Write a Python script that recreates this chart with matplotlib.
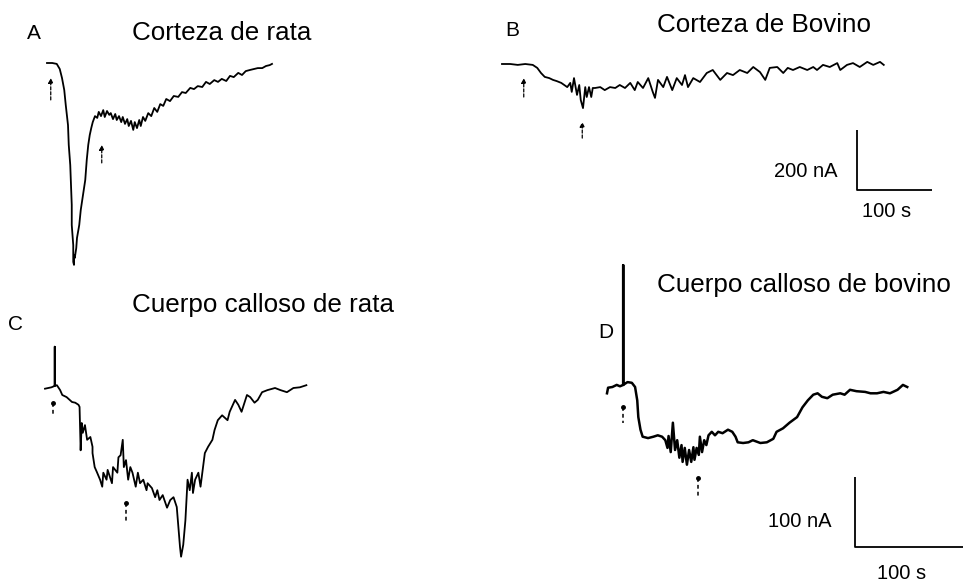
import matplotlib.pyplot as plt

plt.rcParams['font.family'] = ['Liberation Sans', 'DejaVu Sans']

# --- registros (tiempo en s, corriente en nA) ---

# A: corteza de rata
t_a = [0, 7, 13, 17, 20, 23, 25, 28, 29, 31, 32, 33, 33, 35, 35, 36, 36, 37, 39, 40,
       43, 45, 48, 51, 53, 55, 57, 59, 61, 64, 67, 69, 72, 75, 77, 80, 83, 85, 88, 91,
       93, 96, 99, 101, 104, 107, 109, 112, 115, 117, 120, 123, 125, 128, 131, 135, 139, 143, 147, 151,
       155, 159, 164, 169, 175, 180, 185, 191, 196, 201, 207, 212, 217, 223, 228, 233, 239, 244, 249, 255,
       260, 265, 271, 276, 281, 287, 292, 297, 300]
i_a = [0, 0, -3, -20, -50, -90, -140, -207, -273, -340, -407, -473, -540, -607, -663, -673, -640, -650, -617, -583,
       -540, -490, -440, -390, -323, -273, -240, -217, -197, -177, -183, -163, -177, -157, -180, -160, -173, -167, -187, -170,
       -190, -177, -197, -180, -203, -187, -210, -193, -223, -197, -217, -190, -210, -180, -193, -167, -177, -150, -163, -137,
       -143, -120, -127, -110, -113, -97, -100, -83, -87, -77, -80, -63, -70, -57, -63, -53, -60, -43, -47, -33,
       -40, -27, -23, -20, -17, -17, -10, -7, -3]

# B: corteza de bovino
t_b = [0, 11, 21, 31, 41, 47, 52, 57, 63, 68, 73, 79, 83, 87,
       91, 93, 96, 100, 103, 105, 108, 111, 113, 116, 119, 121,
       124, 131, 137, 144, 151, 157, 164, 171, 177, 181, 188, 195, 201, 204, 208, 215, 220, 227, 233, 240, 244, 248, 255,
       264, 273, 281, 291, 300, 308, 317, 327, 335, 344, 351, 357, 367, 375, 381, 388, 397, 407, 415, 420, 428, 437, 447,
       451, 460, 468, 477, 487, 495, 504, 509]
i_b = [0, 0, -3, 0, -3, -13, -30, -43, -47, -53, -57, -63, -70, -77,
       -63, -93, -47, -103, -70, -120, -147, -77, -110, -77, -110, -80,
       -80, -77, -87, -77, -80, -70, -80, -63, -87, -60, -80, -47, -93, -113, -53, -77, -43, -87, -47, -70, -37, -77, -47,
       -60, -30, -20, -53, -30, -37, -20, -30, -10, -27, -53, -13, -10, -30, -13, -20, -10, -20, -10, -20, -3, -10, 3,
       -20, -3, 3, -10, 7, -3, 7, -3]

# C: cuerpo calloso de rata
t_c = [0, 3, 6, 9, 9, 9, 11, 14, 16, 20, 25, 28, 31, 32, 33, 34, 35, 37, 39, 42,
       44, 44, 46, 48, 51, 53, 54, 57, 58, 62, 63, 67, 68, 70, 72, 73, 75, 77, 79, 81,
       84, 86, 88, 91, 94, 95, 99, 102, 104, 106, 109, 113, 116, 119, 122, 123, 125, 126, 128, 130,
       131, 132, 134, 136, 137, 139, 142, 144, 146, 148, 151, 155, 157, 160, 164, 169, 171, 176, 179, 182,
       187, 190, 194, 197, 201, 206, 213, 218, 224, 230, 236, 242]
i_c = [-1, 0, 1, 3, 59, 3, 4, -3, -10, -13, -20, -21, -24, -27, -89, -50, -64, -53, -74, -70,
       -84, -93, -113, -120, -131, -141, -121, -131, -117, -136, -113, -121, -99, -96, -74, -113, -103, -131, -113, -121,
       -141, -121, -136, -131, -146, -136, -143, -156, -146, -160, -153, -171, -160, -156, -170, -189, -227, -241, -224, -189,
       -160, -131, -146, -121, -150, -131, -121, -141, -117, -93, -84, -74, -60, -46, -39, -46, -34, -17, -24, -34,
       -10, -13, -21, -17, -6, -3, 0, -3, -6, 0, 1, 4]

# D: cuerpo calloso de bovino
t_d = [0, 1, 5, 9, 12, 15, 15, 15, 19, 23, 26, 28, 29, 31, 33, 38, 43, 47, 51, 54,
       56, 57, 59, 61, 63, 65, 67, 69, 70, 72, 74, 76, 78, 80, 81, 83, 85, 86, 88, 90,
       92, 94, 97, 100, 103, 107, 112, 116, 119, 121, 126, 131, 135, 142, 148, 154, 157, 163, 169, 176,
       181, 186, 191, 195, 199, 204, 209, 216, 220, 225, 231, 239, 244, 250, 256, 262, 269, 274, 278]
i_d = [-9, -1, 0, 3, 1, 3, 174, 3, 7, 6, 0, -19, -43, -61, -71, -73, -71, -69, -71, -76,
       -87, -70, -93, -51, -90, -76, -101, -83, -107, -87, -111, -90, -107, -86, -104, -87, -97, -71, -93, -76,
       -83, -69, -64, -69, -64, -66, -61, -64, -71, -79, -80, -79, -76, -80, -79, -74, -64, -59, -51, -43,
       -29, -19, -11, -9, -14, -16, -11, -9, -11, -4, -6, -7, -9, -9, -7, -9, -4, 3, 0]

# marcas de aplicacion: (t, punta, cola)
marks_a = [(5, -50, -123), (73, -273, -333)]
marks_b = [(29, -47, -110), (107, -193, -247)]
marks_c = [(7, -21, -39), (75, -164, -191)]
marks_d = [(15, -29, -51), (84, -130, -159)]

titles = ['Corteza de rata', 'Corteza de Bovino', 'Cuerpo calloso de rata', 'Cuerpo calloso de bovino']
letters = ['A', 'B', 'C', 'D']

W, H = 965, 582
fig = plt.figure(figsize=(W / 100, H / 100), dpi=100)


def panel(x0, y0, sx, sy):
    # ejes transparentes sobre toda la figura, origen del registro en (x0, y0) px
    ax = fig.add_axes([0, 0, 1, 1])
    ax.set_xlim(-x0 / sx, (W - x0) / sx)
    ax.set_ylim(-(H - y0) / sy, y0 / sy)
    ax.axis('off')
    ax.patch.set_alpha(0)
    return ax


def draw_marks(ax, marks, head=True):
    for t, top, bottom in marks:
        if head:
            ax.annotate('', xy=(t, top), xytext=(t, bottom),
                        arrowprops=dict(arrowstyle='-|>', color='k', lw=0.9,
                                        ls=(0, (2.5, 1.5)), mutation_scale=7,
                                        shrinkA=0, shrinkB=0))
        else:
            ax.plot([t, t], [top, bottom], color='k', lw=1.1, ls=(0, (2.5, 2)))
            ax.plot([t], [top], 'o', color='k', ms=2.5)


def scale_bar(ax, t0, i_top, amp, dur):
    ax.plot([t0, t0, t0 + dur], [i_top, i_top - amp, i_top - amp],
            color='k', lw=1.3, solid_capstyle='butt')


lw = 1.3
ax_a = panel(47, 63, 0.75, 0.3)
ax_a.plot(t_a, i_a, color='k', lw=lw)
draw_marks(ax_a, marks_a)

ax_b = panel(502, 64, 0.75, 0.3)
ax_b.plot(t_b, i_b, color='k', lw=lw)
draw_marks(ax_b, marks_b)
scale_bar(ax_b, 473, -220, 200, 100)

ax_c = panel(45, 388, 1.08, 0.7)
ax_c.plot(t_c, i_c, color='k', lw=lw)
draw_marks(ax_c, marks_c, head=False)

ax_d = panel(607, 387, 1.08, 0.7)
ax_d.plot(t_d, i_d, color='k', lw=1.8)
draw_marks(ax_d, marks_d, head=False)
scale_bar(ax_d, 230, -129, 100, 100)


def px_text(x, y, s, size, ha='left'):
    fig.text(x / W, 1 - y / H, s, fontsize=size, ha=ha, va='baseline', color='k')


for (x, y), s in zip([(132, 40), (657, 32), (132, 312), (657, 292)], titles):
    px_text(x, y, s, 18.7)
for (x, y), s in zip([(27, 39), (505, 36), (8, 330), (598, 338)], letters):
    px_text(x, y, s, 15)

px_text(838, 177, '200 nA', 14.5, ha='right')
px_text(862, 217, '100 s', 14.5)
px_text(832, 527, '100 nA', 14.5, ha='right')
px_text(877, 579, '100 s', 14.5)

fig.savefig('out.png', dpi=100, facecolor='white')
